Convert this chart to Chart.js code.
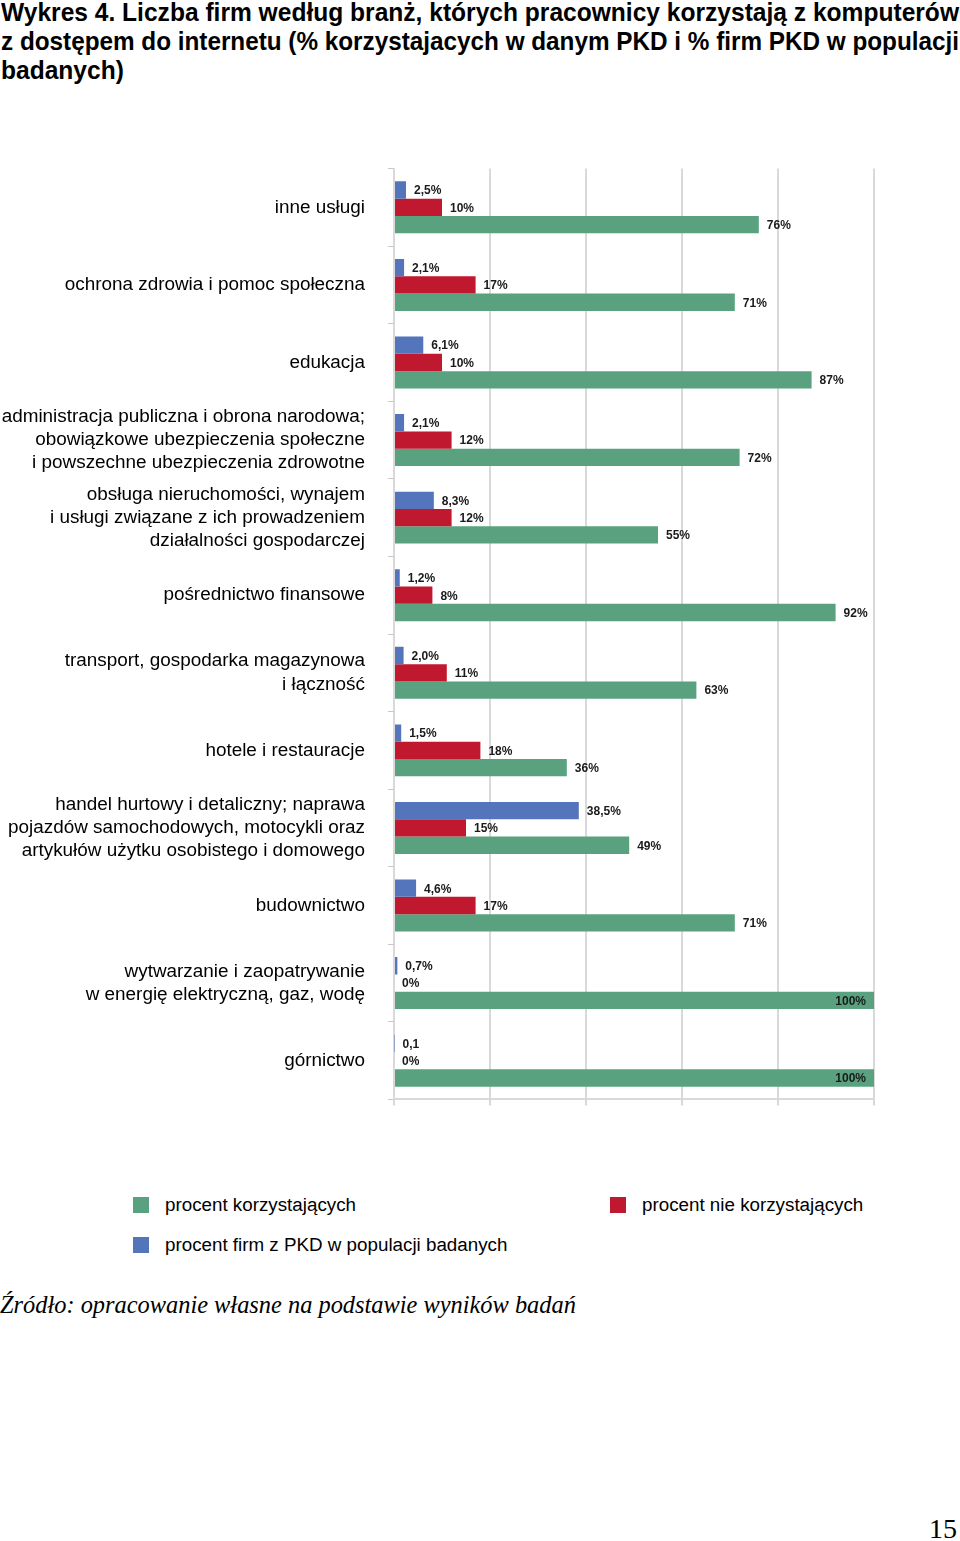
<!DOCTYPE html>
<html>
<head>
<meta charset="utf-8">
<script src="https://cdn.jsdelivr.net/npm/chart.js@4"></script>
<style>
body { margin: 0; width: 960px; height: 1541px; position: relative; background: #fff; font-family: "Liberation Sans", Arial, sans-serif; color: #000; overflow: hidden; }
#title { position: absolute; left: 1px; top: -2px; width: 958px; font-weight: bold; font-size: 25px; line-height: 29px; }
#title div { white-space: nowrap; }
#title span { display: inline-block; transform-origin: 0 0; }
#box { position: absolute; left: 0; top: 134px; width: 960px; height: 1000px; }
.leg { position: absolute; font-size: 18.8px; line-height: 20px; white-space: nowrap; }
.leg span { position: absolute; left: 0; top: 2px; width: 16px; height: 16px; }
.leg b { font-weight: normal; margin-left: 32px; }
#src { position: absolute; left: 0; top: 1291px; font-family: "Liberation Serif", "Times New Roman", serif; font-style: italic; font-size: 24.4px; }
#page { position: absolute; right: 3px; top: 1513px; font-family: "Liberation Serif", "Times New Roman", serif; font-size: 28px; }
</style>
</head>
<body>
<div id="title">
  <div><span>Wykres 4. Liczba firm według branż, których pracownicy korzystają z komputerów</span></div>
  <div><span>z dostępem do internetu (% korzystajacych w danym PKD i % firm PKD w populacji</span></div>
  <div><span>badanych)</span></div>
</div>
<div id="box"><canvas id="myChart"></canvas></div>
<div id="legend"></div>
<div id="src">Źródło: opracowanie własne na podstawie wyników badań</div>
<div id="page">15</div>
<script>
var categories = [
    'inne usługi',
    'ochrona zdrowia i pomoc społeczna',
    'edukacja',
    ['administracja publiczna i obrona narodowa;', 'obowiązkowe ubezpieczenia społeczne', 'i powszechne ubezpieczenia zdrowotne'],
    ['obsługa nieruchomości, wynajem', 'i usługi związane z ich prowadzeniem', 'działalności gospodarczej'],
    'pośrednictwo finansowe',
    ['transport, gospodarka magazynowa', 'i łączność'],
    'hotele i restauracje',
    ['handel hurtowy i detaliczny; naprawa', 'pojazdów samochodowych, motocykli oraz', 'artykułów użytku osobistego i domowego'],
    'budownictwo',
    ['wytwarzanie i zaopatrywanie', 'w energię elektryczną, gaz, wodę'],
    'górnictwo'
];

// procent firm z PKD w populacji badanych
var firmy = [2.5, 2.1, 6.1, 2.1, 8.3, 1.2, 2.0, 1.5, 38.5, 4.6, 0.7, 0.1];
var firmyLabels = ['2,5%', '2,1%', '6,1%', '2,1%', '8,3%', '1,2%', '2,0%', '1,5%', '38,5%', '4,6%', '0,7%', '0,1'];
// procent nie korzystających
var nieKorzystajacy = [10, 17, 10, 12, 12, 8, 11, 18, 15, 17, 0, 0];
// procent korzystających
var korzystajacy = [76, 71, 87, 72, 55, 92, 63, 36, 49, 71, 100, 100];

var pct = function (arr) { return arr.map(function (v) { return v + '%'; }); };

// squeeze the title lines to the page width like the original
var spans = document.querySelectorAll('#title span');
var sx = [];
spans.forEach(function (s, i) {
    sx[i] = i < 2 ? 958 / s.getBoundingClientRect().width : sx[0];
    s.style.transform = 'scaleX(' + sx[i] + ')';
});

Chart.defaults.font.family = '"Liberation Sans", Arial, sans-serif';
Chart.defaults.color = '#000';

var valueLabels = {
    id: 'valueLabels',
    afterDatasetsDraw: function (chart) {
        var c = chart.ctx;
        c.save();
        c.font = 'bold 12px "Liberation Sans", Arial, sans-serif';
        c.fillStyle = '#1a1a1a';
        c.textBaseline = 'middle';
        chart.data.datasets.forEach(function (ds, di) {
            chart.getDatasetMeta(di).data.forEach(function (bar, i) {
                var txt = ds.labelText[i];
                var w = c.measureText(txt).width;
                if (bar.x + 8 + w > chart.chartArea.right) {
                    c.textAlign = 'right';
                    c.fillText(txt, bar.x - 8, bar.y + 1);
                } else {
                    c.textAlign = 'left';
                    c.fillText(txt, bar.x + 8, bar.y + 1);
                }
            });
        });
        c.restore();
    }
};

var ctx = document.getElementById('myChart').getContext('2d');
var myChart = new Chart(ctx, {
    type: 'bar',
    data: {
        labels: categories,
        datasets: [{
            label: 'procent firm z PKD w populacji badanych',
            data: firmy,
            labelText: firmyLabels,
            backgroundColor: '#5474bb'
        }, {
            label: 'procent nie korzystających',
            data: nieKorzystajacy,
            labelText: pct(nieKorzystajacy),
            backgroundColor: '#c0182f'
        }, {
            label: 'procent korzystających',
            data: korzystajacy,
            labelText: pct(korzystajacy),
            backgroundColor: '#5aa27f'
        }]
    },
    options: {
        indexAxis: 'y',
        responsive: true,
        maintainAspectRatio: false,
        animation: false,
        layout: { padding: { top: 18, right: 86, bottom: 15, left: 0 } },
        datasets: { bar: { categoryPercentage: 0.67, barPercentage: 1.0 } },
        plugins: { legend: { display: false }, tooltip: { enabled: false } },
        scales: {
            x: {
                min: 0,
                max: 100,
                ticks: { stepSize: 20, display: false },
                grid: { color: '#d9d9d9', lineWidth: 2, tickLength: 6 },
                border: { color: '#d9d9d9', width: 2 }
            },
            y: {
                afterFit: function (scale) { scale.width = 394; },
                ticks: { font: { size: 18.9, lineHeight: 1.22 }, padding: 23 },
                grid: { offset: true, drawOnChartArea: false, tickLength: 6, color: '#c8c8c8' },
                border: { display: false }
            }
        }
    },
    plugins: [valueLabels]
});

// legend in the same two-column layout as the original
var legendPos = [[133, 1235], [610, 1195], [133, 1195]];
var legendHtml = '';
myChart.data.datasets.forEach(function (ds, i) {
    legendHtml += '<div class="leg" style="left:' + legendPos[i][0] + 'px;top:' + legendPos[i][1] + 'px">' +
        '<span style="background:' + ds.backgroundColor + '"></span><b>' + ds.label + '</b></div>';
});
document.getElementById('legend').innerHTML = legendHtml;
</script>
</body>
</html>
